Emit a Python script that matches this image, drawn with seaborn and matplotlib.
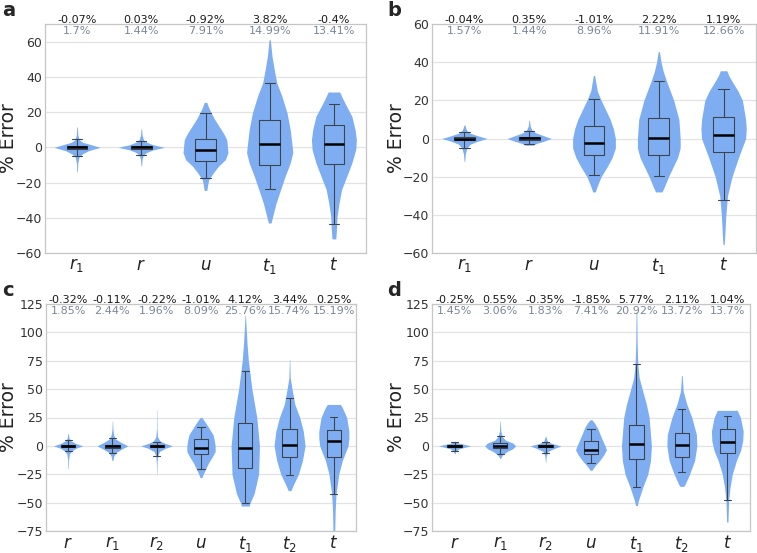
import numpy as np
import matplotlib
matplotlib.use("Agg")
import matplotlib.pyplot as plt
import matplotlib.transforms as mtransforms
import seaborn as sns

sns.set_theme(style="whitegrid")
plt.rcParams["font.family"] = ["DejaVu Sans"]
plt.rcParams["mathtext.fontset"] = "dejavusans"

VIOLIN = "#7eaef1"
GRAY_TXT = "#7b8797"

# ── categories ──────────────────────────────────────────────────────────────
LABELS_AB = ["$r_1$", "$r$", "$u$", "$t_1$", "$t$"]
LABELS_CD = ["$r$", "$r_1$", "$r_2$", "$u$", "$t_1$", "$t_2$", "$t$"]

# ── mean / spread annotations (top rows) ────────────────────────────────────
MEAN_A = [-0.07, 0.03, -0.92, 3.82, -0.4]
SPREAD_A = [1.7, 1.44, 7.91, 14.99, 13.41]
MEAN_B = [-0.04, 0.35, -1.01, 2.22, 1.19]
SPREAD_B = [1.57, 1.44, 8.96, 11.91, 12.66]
MEAN_C = [-0.32, -0.11, -0.22, -1.01, 4.12, 3.44, 0.25]
SPREAD_C = [1.85, 2.44, 1.96, 8.09, 25.76, 15.74, 15.19]
MEAN_D = [-0.25, 0.55, -0.35, -1.85, 5.77, 2.11, 1.04]
SPREAD_D = [1.45, 3.06, 1.83, 7.41, 20.92, 13.72, 13.7]

# ── violin outlines: y levels and half widths ──────────────────────────────
A_Y = [
    [-14, -9, -5.5, -3.8, -1.9, 0, 1.9, 2.8, 4.2, 7, 11.5],
    [-10.5, -7, -4.5, -3, -1.5, 0, 1.5, 2.8, 4.2, 7, 10.5],
    [-24.5, -21, -18.4, -14.6, -10.8, -7, -3, 1, 4.4, 8, 12, 16, 19.5, 22.5, 25.5],
    [-43, -37.3, -31.6, -24, -16.5, -8.9, -3, 0.6, 10, 19.5, 29, 36.6, 42.2, 51.7, 61],
    [-52, -46.8, -39, -31.6, -24, -16.5, -8.9, -1.3, 4.4, 10, 17.6, 25.2, 29, 31.4],
]
A_W = [
    [0.005, 0.01, 0.03, 0.08, 0.18, 0.36, 0.18, 0.09, 0.036, 0.012, 0.005],
    [0.005, 0.012, 0.03, 0.08, 0.18, 0.36, 0.18, 0.09, 0.036, 0.012, 0.005],
    [0.02, 0.035, 0.05, 0.12, 0.2, 0.31, 0.35, 0.34, 0.33, 0.28, 0.21, 0.14, 0.09, 0.05, 0.02],
    [0.02, 0.06, 0.1, 0.17, 0.24, 0.32, 0.36, 0.35, 0.32, 0.27, 0.19, 0.11, 0.08, 0.036, 0.01],
    [0.03, 0.04, 0.05, 0.08, 0.12, 0.2, 0.28, 0.34, 0.35, 0.33, 0.28, 0.17, 0.12, 0.09],
]
B_Y = [
    [-12, -8, -5, -3, -1.5, 0, 1.5, 2.8, 4, 5.5, 7],
    [-3.5, -2.5, -1.5, 0, 1.5, 3, 4.5, 6.5, 9.5],
    [-28, -25, -20, -15, -10, -5, 0, 5, 10, 15, 20, 25, 30, 33],
    [-28, -25, -20, -10, -5, 0, 10, 20, 30, 35, 40, 45.5],
    [-55.5, -50, -40, -30, -20, -10, 0, 5, 10, 20, 25, 30, 33, 35.5],
]
B_W = [
    [0.005, 0.015, 0.04, 0.09, 0.2, 0.35, 0.2, 0.09, 0.04, 0.02, 0.008],
    [0.06, 0.12, 0.22, 0.34, 0.22, 0.1, 0.04, 0.015, 0.005],
    [0.02, 0.05, 0.11, 0.2, 0.28, 0.33, 0.33, 0.30, 0.25, 0.18, 0.11, 0.05, 0.025, 0.01],
    [0.05, 0.09, 0.15, 0.29, 0.33, 0.33, 0.31, 0.23, 0.12, 0.07, 0.035, 0.01],
    [0.01, 0.02, 0.035, 0.06, 0.13, 0.23, 0.34, 0.35, 0.34, 0.29, 0.22, 0.13, 0.08, 0.05],
]
C_Y = [
    [-20, -12, -7, -4.5, -2, 0, 2, 4.5, 7, 11],
    [-13, -9, -6, -3, 0, 3, 6, 10, 15, 22],
    [-25, -15, -9, -5, -2, 0, 2, 4.5, 8, 15, 32],
    [-28, -24, -20, -15, -10, -5, 0, 5, 10, 15, 20, 25],
    [-53, -51, -42, -25, 0, 25, 50, 75, 90, 104, 115],
    [-39.5, -34, -25, -13, 0, 13, 25, 36.5, 48, 60, 76],
    [-75, -57, -42, -25, -13, 0, 7, 13, 25, 33, 36.5],
]
C_W = [
    [0.005, 0.01, 0.03, 0.08, 0.18, 0.33, 0.18, 0.06, 0.02, 0.005],
    [0.01, 0.03, 0.08, 0.2, 0.35, 0.2, 0.07, 0.025, 0.01, 0.004],
    [0.003, 0.008, 0.02, 0.06, 0.2, 0.36, 0.2, 0.07, 0.02, 0.006, 0.003],
    [0.02, 0.06, 0.11, 0.17, 0.25, 0.32, 0.32, 0.3, 0.27, 0.19, 0.11, 0.02],
    [0.09, 0.1, 0.2, 0.30, 0.32, 0.26, 0.15, 0.07, 0.04, 0.02, 0.005],
    [0.03, 0.09, 0.2, 0.29, 0.35, 0.31, 0.23, 0.12, 0.065, 0.015, 0.004],
    [0.02, 0.03, 0.05, 0.11, 0.19, 0.32, 0.34, 0.34, 0.29, 0.2, 0.15],
]
D_Y = [
    [-7, -4.5, -2.5, -1, 0, 1, 2.5, 4],
    [-11, -8, -5, -2.5, 0, 2.5, 5, 8, 13, 22],
    [-14.5, -9, -5, -2.5, 0, 2, 4, 8.5],
    [-21.5, -18, -13, -8, -3.5, 0, 4.4, 10, 16, 20, 23],
    [-52.6, -48, -36.5, -25, -13, 0, 25, 36.5, 48, 60, 72, 90, 118],
    [-35.7, -34, -25, -13, 0, 10, 25, 36.5, 48, 62],
    [-67, -60, -48, -36.5, -25, -13, -4.4, 4.4, 13, 25, 31.3],
]
D_W = [
    [0.005, 0.03, 0.1, 0.25, 0.35, 0.25, 0.08, 0.01],
    [0.01, 0.05, 0.15, 0.28, 0.34, 0.28, 0.12, 0.05, 0.015, 0.004],
    [0.004, 0.015, 0.05, 0.18, 0.34, 0.15, 0.04, 0.005],
    [0.02, 0.08, 0.19, 0.28, 0.34, 0.31, 0.26, 0.2, 0.14, 0.08, 0.02],
    [0.02, 0.045, 0.14, 0.25, 0.31, 0.33, 0.28, 0.22, 0.14, 0.06, 0.03, 0.015, 0.008],
    [0.04, 0.07, 0.17, 0.28, 0.33, 0.32, 0.22, 0.11, 0.03, 0.008],
    [0.015, 0.02, 0.03, 0.06, 0.11, 0.2, 0.29, 0.34, 0.35, 0.29, 0.22],
]

# ── box stats: q1, median, q3, lower whisker, upper whisker ────────────────
A_BOX = [(-0.8, 0, 0.8, -5, 4.5), (-0.7, 0, 0.7, -4.5, 3.5), (-7.6, -1.5, 4.9, -17.5, 19.5),
         (-10, 2.1, 15.7, -23.7, 36.6), (-9.3, 1.7, 12.5, -43.6, 24.6)]
B_BOX = [(-0.8, 0, 0.8, -5, 3.5), (-0.8, 0.2, 1, -3, 4), (-8.5, -2.5, 6.5, -19, 20.5),
         (-8.5, 0.3, 11, -19.5, 30), (-7, 2, 11.5, -32, 26)]
C_BOX = [(-1, 0, 1, -4.5, 5.5), (-1.5, 0, 1, -6.5, 6.5), (-1, 0, 0.5, -9, 3.5),
         (-7.5, -1.5, 6, -20.5, 17), (-19.6, -2.3, 20.5, -50, 66),
         (-10, 1, 14.6, -26, 42.4), (-9.4, 4, 14.3, -42.5, 25.7)]
D_BOX = [(-1, 0, 1, -4.5, 3), (-1.5, 0.3, 2.5, -7, 8.5), (-1, 0, 0.6, -6.5, 3.5),
         (-7, -3.5, 4, -15, 14.5), (-11.7, 2, 18.4, -36, 72),
         (-10, 1, 11.7, -23.4, 32.7), (-6.7, 3.8, 14.6, -47.7, 26.3)]

W_PX, H_PX = 757, 553
fig = plt.figure(figsize=(W_PX / 100, H_PX / 100), dpi=100)


def px_axes(left, top, right, bottom):
    return fig.add_axes([left / W_PX, 1 - bottom / H_PX,
                         (right - left) / W_PX, (bottom - top) / H_PX])


panels = [
    # letter, axes box (px), letter pos, ylabel x, labels, ys, ws, boxes, means, spreads, ylim, yticks
    ("a", (45, 24, 366, 253), (2, 1), 9, LABELS_AB, A_Y, A_W, A_BOX, MEAN_A, SPREAD_A,
     (-60, 70), np.arange(-60, 61, 20)),
    ("b", (432, 24, 756, 253), (387, 1), 396, LABELS_AB, B_Y, B_W, B_BOX, MEAN_B, SPREAD_B,
     (-60, 60), np.arange(-60, 61, 20)),
    ("c", (46, 304, 356, 531), (2, 281), 9, LABELS_CD, C_Y, C_W, C_BOX, MEAN_C, SPREAD_C,
     (-75, 125), np.arange(-75, 126, 25)),
    ("d", (432, 304, 750, 531), (387, 281), 396, LABELS_CD, D_Y, D_W, D_BOX, MEAN_D, SPREAD_D,
     (-75, 125), np.arange(-75, 126, 25)),
]

for (letter, box, lpos, ylab_x, labels, ys, ws, boxes, means, spreads,
     ylim, yticks) in panels:
    ax = px_axes(*box)
    pos = np.arange(len(labels))

    # violins
    for x, yv, wv in zip(pos, ys, ws):
        yv = np.asarray(yv, float)
        wv = np.asarray(wv, float)
        ax.fill_betweenx(yv, x - wv, x + wv, color=VIOLIN, lw=0, zorder=2)

    # boxes
    stats = [dict(q1=q1, med=med, q3=q3, whislo=lo, whishi=hi, fliers=[])
             for q1, med, q3, lo, hi in boxes]
    ax.bxp(stats, positions=pos, widths=0.32, showfliers=False, patch_artist=True,
           boxprops=dict(facecolor="none", edgecolor="#3c4450", lw=0.8),
           medianprops=dict(color="black", lw=1.8),
           whiskerprops=dict(color="#3c4450", lw=0.8),
           capprops=dict(color="#3c4450", lw=0.8),
           zorder=3)

    ax.set_xlim(-0.5, len(labels) - 0.5)
    ax.set_ylim(*ylim)
    ax.set_yticks(yticks)
    ax.set_xticks(pos)
    ax.set_xticklabels(labels, fontsize=12)
    ax.tick_params(axis="y", labelsize=9, length=0, pad=2, colors="#333333")
    ax.tick_params(axis="x", length=2.5, width=0.6, color="#c8c8c8", pad=0, colors="#222222")
    ax.grid(axis="y", color="#e3e3e3", lw=0.9)
    ax.grid(axis="x", visible=False)
    for sp in ax.spines.values():
        sp.set_color("#c6c6c6")
        sp.set_linewidth(0.9)

    trans = mtransforms.blended_transform_factory(ax.transData, ax.transAxes)
    h = box[3] - box[1]
    for x, m, s in zip(pos, means, spreads):
        ax.text(x, 1 + 4.0 / h, f"{m}%", transform=trans, ha="center", va="center",
                fontsize=8, color="#1a1a1a", clip_on=False)
        ax.text(x, 1 - 7.0 / h, f"{s}%", transform=trans, ha="center", va="center",
                fontsize=8, color=GRAY_TXT, clip_on=False, zorder=5)

    fig.text(lpos[0] / W_PX, 1 - lpos[1] / H_PX, letter, fontsize=14,
             fontweight="bold", ha="left", va="top")
    fig.text(ylab_x / W_PX, 1 - (box[1] + box[3]) / 2 / H_PX, "% Error",
             rotation=90, ha="center", va="center", fontsize=13.5, color="#222222")

fig.savefig("out.png", dpi=100)
